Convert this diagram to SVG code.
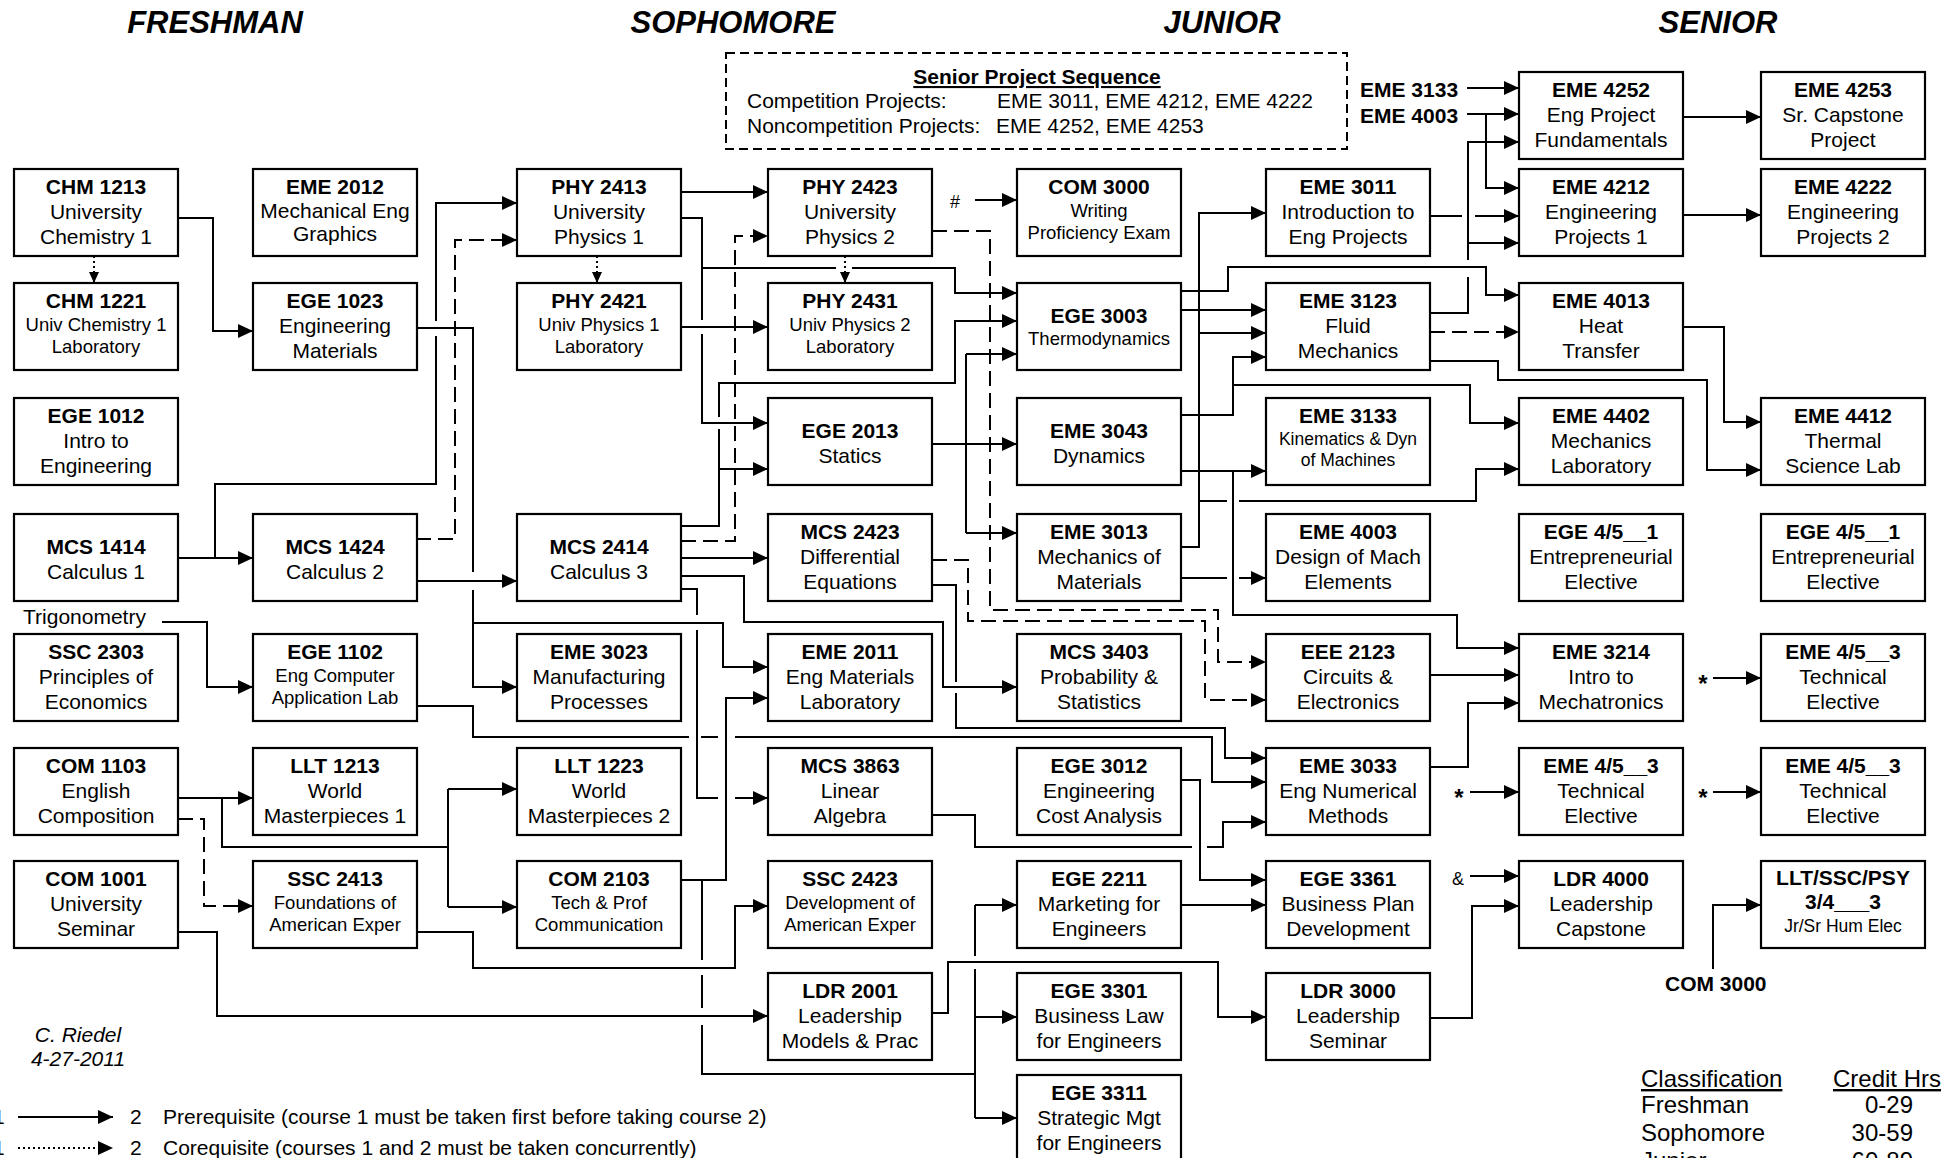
<svg xmlns="http://www.w3.org/2000/svg" width="1942" height="1158" viewBox="0 0 1942 1158">
<defs>
<style>
text{font-family:'Liberation Sans',Arial,Helvetica,sans-serif;fill:#000}
.box{fill:#fff;stroke:#000;stroke-width:2.2}
.n text{text-anchor:middle}
.b{font-weight:bold;font-size:21px}
.r{font-size:21px}
.s{font-size:18.5px}
.k{font-size:17.5px}
.h{font-weight:bold;font-style:italic;font-size:31px;text-anchor:middle}
.c path{fill:none;stroke:#000;stroke-width:2}
.c path.d{stroke-dasharray:15 7}
.c path.t{stroke-dasharray:2 3}
</style>
<marker id="a" markerUnits="userSpaceOnUse" markerWidth="15" markerHeight="14" refX="15" refY="7" orient="auto"><path d="M0,0 L15,7 L0,14 z" fill="#000"/></marker>
<marker id="as" markerUnits="userSpaceOnUse" markerWidth="11" markerHeight="10" refX="11" refY="5" orient="auto"><path d="M0,0 L11,5 L0,10 z" fill="#000"/></marker>
</defs>
<rect width="1942" height="1158" fill="#fff"/>

<g id="headers">
<text class="h" x="215" y="33">FRESHMAN</text>
<text class="h" x="733" y="33">SOPHOMORE</text>
<text class="h" x="1222" y="33">JUNIOR</text>
<text class="h" x="1718" y="33">SENIOR</text>
</g>

<g id="senior-project-sequence">
<rect x="726" y="53" width="621" height="96" fill="none" stroke="#000" stroke-width="2" stroke-dasharray="9 5"/>
<text x="1037" y="84" font-size="21" font-weight="bold" text-anchor="middle" text-decoration="underline">Senior Project Sequence</text>
<text x="747" y="108" font-size="21">Competition Projects:</text>
<text x="997" y="108" font-size="21">EME 3011, EME 4212, EME 4222</text>
<text x="747" y="133" font-size="21">Noncompetition Projects:</text>
<text x="996" y="133" font-size="21">EME 4252, EME 4253</text>
</g>

<g id="labels">
<text x="1360" y="97" class="b">EME 3133</text>
<text x="1360" y="123" class="b">EME 4003</text>
<text x="23" y="624" class="r">Trigonometry</text>
<text x="950" y="208" font-size="18">#</text>
<text x="1703" y="692" font-size="24" font-weight="bold" text-anchor="middle">*</text>
<text x="1459" y="806" font-size="24" font-weight="bold" text-anchor="middle">*</text>
<text x="1703" y="806" font-size="24" font-weight="bold" text-anchor="middle">*</text>
<text x="1452" y="885" font-size="18">&amp;</text>
<text x="1665" y="991" class="b">COM 3000</text>
<text x="78" y="1042" class="r" font-style="italic" text-anchor="middle">C. Riedel</text>
<text x="78" y="1066" class="r" font-style="italic" text-anchor="middle">4-27-2011</text>
</g>

<g id="legend">
<text x="-7" y="1124" class="r">1</text>
<text x="-7" y="1155" class="r">1</text>
<text x="130" y="1124" class="r">2</text>
<text x="163" y="1124" class="r">Prerequisite (course 1 must be taken first before taking course 2)</text>
<text x="130" y="1155" class="r">2</text>
<text x="163" y="1155" class="r">Corequisite (courses 1 and 2 must be taken concurrently)</text>
</g>

<g id="classification" font-size="24">
<text x="1641" y="1087" font-size="24" text-decoration="underline">Classification</text>
<text x="1833" y="1087" font-size="24" text-decoration="underline">Credit Hrs</text>
<text x="1641" y="1113" font-size="24">Freshman</text>
<text x="1913" y="1113" font-size="24" text-anchor="end">0-29</text>
<text x="1641" y="1141" font-size="24">Sophomore</text>
<text x="1913" y="1141" font-size="24" text-anchor="end">30-59</text>
<text x="1641" y="1169" font-size="24">Junior</text>
<text x="1913" y="1169" font-size="24" text-anchor="end">60-89</text>
</g>

<g id="connectors" class="c">
<path d="M178,218 H213 V331 H253" marker-end="url(#a)"/>
<path d="M178,558 H253" marker-end="url(#a)"/>
<path d="M215,558 V484 H436 V336 M436,321 V203 H517" marker-end="url(#a)"/>
<path d="M416,581 H517" marker-end="url(#a)"/>
<path d="M416,328 H473 V572 M473,590 V687 H517" marker-end="url(#a)"/>
<path d="M473,623 H723 V667 H768" marker-end="url(#a)"/>
<path d="M162,622 H207 V687 H253" marker-end="url(#a)"/>
<path d="M416,706 H473 V737 H689 M701,737 H718 M735,737 H1212 V782 H1266" marker-end="url(#a)"/>
<path d="M681,192 H768" marker-end="url(#a)"/>
<path d="M681,218 H702 V320 M702,334 V423 H768" marker-end="url(#a)"/>
<path d="M702,268 H836 M852,268 H955 V293 H1017" marker-end="url(#a)"/>
<path d="M681,526 H719 V469 H768" marker-end="url(#a)"/>
<path d="M719,469 V429 M719,417 V383 H955 V321 H1017" marker-end="url(#a)"/>
<path d="M681,327 H768" marker-end="url(#a)"/>
<path d="M681,558 H768" marker-end="url(#a)"/>
<path d="M681,576 H744 V622 H943 V687 H1017" marker-end="url(#a)"/>
<path d="M681,589 H697 V615 M697,630 V798 H718 M735,798 H768" marker-end="url(#a)"/>
<path d="M681,880 H726 V698 H768" marker-end="url(#a)"/>
<path d="M702,880 V960 M702,975 V1008 M702,1025 V1074 H975"/>
<path d="M975,905 V956 M975,969 V1118"/>
<path d="M975,905 H1017" marker-end="url(#a)"/>
<path d="M975,1017 H1017" marker-end="url(#a)"/>
<path d="M975,1118 H1017" marker-end="url(#a)"/>
<path d="M178,798 H253" marker-end="url(#a)"/>
<path d="M222,798 V847 H448 M448,789 V907"/>
<path d="M448,789 H517" marker-end="url(#a)"/>
<path d="M448,907 H517" marker-end="url(#a)"/>
<path d="M178,932 H217 V1016 H768" marker-end="url(#a)"/>
<path d="M416,932 H473 V968 H735 V906 H768" marker-end="url(#a)"/>
<path d="M932,1013 H948 V962 H1218 V1017 H1266" marker-end="url(#a)"/>
<path d="M1180,905 H1266" marker-end="url(#a)"/>
<path d="M1180,780 H1200 V880 H1266" marker-end="url(#a)"/>
<path d="M932,815 H975 V847 H1192 M1207,847 H1223 V822 H1266" marker-end="url(#a)"/>
<path d="M932,585 H956 V682 M956,693 V728 H1225 V758 H1266" marker-end="url(#a)"/>
<path d="M932,444 H1017" marker-end="url(#a)"/>
<path d="M966,354 V533"/>
<path d="M966,354 H1017" marker-end="url(#a)"/>
<path d="M966,533 H1017" marker-end="url(#a)"/>
<path d="M975,200 H1017" marker-end="url(#a)"/>
<path d="M1180,310 H1266" marker-end="url(#a)"/>
<path d="M1180,291 H1228 V267 H1486 V295 H1519" marker-end="url(#a)"/>
<path d="M1180,547 H1199 V213 H1266" marker-end="url(#a)"/>
<path d="M1199,333 H1266" marker-end="url(#a)"/>
<path d="M1199,501 H1227 M1239,501 H1476 V469 H1519" marker-end="url(#a)"/>
<path d="M1180,415 H1233 V357 H1266" marker-end="url(#a)"/>
<path d="M1233,385 H1470 V423 H1519" marker-end="url(#a)"/>
<path d="M1180,471 H1266" marker-end="url(#a)"/>
<path d="M1233,471 V615 H1457 V648 H1519" marker-end="url(#a)"/>
<path d="M1180,578 H1227 M1239,578 H1266" marker-end="url(#a)"/>
<path d="M1430,675 H1519" marker-end="url(#a)"/>
<path d="M1430,767 H1468 V703 H1519" marker-end="url(#a)"/>
<path d="M1430,313 H1468 V277 M1468,260 V142 H1519" marker-end="url(#a)"/>
<path d="M1468,243 H1519" marker-end="url(#a)"/>
<path d="M1430,216 H1462 M1475,216 H1519" marker-end="url(#a)"/>
<path d="M1467,88 H1519" marker-end="url(#a)"/>
<path d="M1467,114 H1519" marker-end="url(#a)"/>
<path d="M1486,114 V188 H1519" marker-end="url(#a)"/>
<path d="M1683,117 H1761" marker-end="url(#a)"/>
<path d="M1683,215 H1761" marker-end="url(#a)"/>
<path d="M1683,327 H1724 V422 H1761" marker-end="url(#a)"/>
<path d="M1430,361 H1498 V380 H1707 V470 H1761" marker-end="url(#a)"/>
<path d="M1713,678 H1761" marker-end="url(#a)"/>
<path d="M1470,792 H1519" marker-end="url(#a)"/>
<path d="M1713,792 H1761" marker-end="url(#a)"/>
<path d="M1470,876 H1519" marker-end="url(#a)"/>
<path d="M1430,1018 H1472 V906 H1519" marker-end="url(#a)"/>
<path d="M1713,969 V905 H1761" marker-end="url(#a)"/>
<path class="d" d="M416,539 H455 V240 H517" marker-end="url(#a)"/>
<path class="d" d="M681,541 H735 V236 H768" marker-end="url(#a)"/>
<path class="d" d="M932,231 H990 V610 H1218 V662 H1266" marker-end="url(#a)"/>
<path class="d" d="M932,560 H968 V621 H1205 V700 H1266" marker-end="url(#a)"/>
<path class="d" d="M1430,332 H1519" marker-end="url(#a)"/>
<path class="d" d="M178,819 H204 V906 H253" marker-end="url(#a)"/>
<path class="t" d="M94,256 V283" marker-end="url(#as)"/>
<path class="t" d="M597,256 V283" marker-end="url(#as)"/>
<path class="t" d="M845,256 V283" marker-end="url(#as)"/>
<path d="M18,1117 H113" marker-end="url(#a)"/>
<path class="t" d="M18,1148 H113" marker-end="url(#a)"/>
</g>

<g class="n">
<g id="chm1213"><rect class="box" x="14" y="169" width="164" height="87"/><text class="b" x="96" y="193.5">CHM 1213</text><text class="r" x="96" y="218.5">University</text><text class="r" x="96" y="243.5">Chemistry 1</text></g>
<g id="chm1221"><rect class="box" x="14" y="283" width="164" height="87"/><text class="b" x="96" y="307.5">CHM 1221</text><text class="s" x="96" y="330.5">Univ Chemistry 1</text><text class="s" x="96" y="352.5">Laboratory</text></g>
<g id="ege1012"><rect class="box" x="14" y="398" width="164" height="87"/><text class="b" x="96" y="422.5">EGE 1012</text><text class="r" x="96" y="447.5">Intro to</text><text class="r" x="96" y="472.5">Engineering</text></g>
<g id="mcs1414"><rect class="box" x="14" y="514" width="164" height="87"/><text class="b" x="96" y="554">MCS 1414</text><text class="r" x="96" y="579">Calculus 1</text></g>
<g id="ssc2303"><rect class="box" x="14" y="634" width="164" height="87"/><text class="b" x="96" y="658.5">SSC 2303</text><text class="r" x="96" y="683.5">Principles of</text><text class="r" x="96" y="708.5">Economics</text></g>
<g id="com1103"><rect class="box" x="14" y="748" width="164" height="87"/><text class="b" x="96" y="772.5">COM 1103</text><text class="r" x="96" y="797.5">English</text><text class="r" x="96" y="822.5">Composition</text></g>
<g id="com1001"><rect class="box" x="14" y="861" width="164" height="87"/><text class="b" x="96" y="885.5">COM 1001</text><text class="r" x="96" y="910.5">University</text><text class="r" x="96" y="935.5">Seminar</text></g>

<g id="eme2012"><rect class="box" x="253" y="169" width="164" height="87"/><text class="b" x="335" y="193.5">EME 2012</text><text class="r" x="335" y="217.5" font-size="20">Mechanical Eng</text><text class="r" x="335" y="240.5" font-size="20">Graphics</text></g>
<g id="ege1023"><rect class="box" x="253" y="283" width="164" height="87"/><text class="b" x="335" y="307.5">EGE 1023</text><text class="r" x="335" y="332.5">Engineering</text><text class="r" x="335" y="357.5">Materials</text></g>
<g id="mcs1424"><rect class="box" x="253" y="514" width="164" height="87"/><text class="b" x="335" y="554">MCS 1424</text><text class="r" x="335" y="579">Calculus 2</text></g>
<g id="ege1102"><rect class="box" x="253" y="634" width="164" height="87"/><text class="b" x="335" y="658.5">EGE 1102</text><text class="s" x="335" y="681.5">Eng Computer</text><text class="s" x="335" y="703.5">Application Lab</text></g>
<g id="llt1213"><rect class="box" x="253" y="748" width="164" height="87"/><text class="b" x="335" y="772.5">LLT 1213</text><text class="r" x="335" y="797.5">World</text><text class="r" x="335" y="822.5">Masterpieces 1</text></g>
<g id="ssc2413"><rect class="box" x="253" y="861" width="164" height="87"/><text class="b" x="335" y="885.5">SSC 2413</text><text class="s" x="335" y="908.5">Foundations of</text><text class="s" x="335" y="930.5">American Exper</text></g>

<g id="phy2413"><rect class="box" x="517" y="169" width="164" height="87"/><text class="b" x="599" y="193.5">PHY 2413</text><text class="r" x="599" y="218.5">University</text><text class="r" x="599" y="243.5">Physics 1</text></g>
<g id="phy2421"><rect class="box" x="517" y="283" width="164" height="87"/><text class="b" x="599" y="307.5">PHY 2421</text><text class="s" x="599" y="330.5">Univ Physics 1</text><text class="s" x="599" y="352.5">Laboratory</text></g>
<g id="mcs2414"><rect class="box" x="517" y="514" width="164" height="87"/><text class="b" x="599" y="554">MCS 2414</text><text class="r" x="599" y="579">Calculus 3</text></g>
<g id="eme3023"><rect class="box" x="517" y="634" width="164" height="87"/><text class="b" x="599" y="658.5">EME 3023</text><text class="r" x="599" y="683.5">Manufacturing</text><text class="r" x="599" y="708.5">Processes</text></g>
<g id="llt1223"><rect class="box" x="517" y="748" width="164" height="87"/><text class="b" x="599" y="772.5">LLT 1223</text><text class="r" x="599" y="797.5">World</text><text class="r" x="599" y="822.5">Masterpieces 2</text></g>
<g id="com2103"><rect class="box" x="517" y="861" width="164" height="87"/><text class="b" x="599" y="885.5">COM 2103</text><text class="s" x="599" y="908.5">Tech &amp; Prof</text><text class="s" x="599" y="930.5">Communication</text></g>

<g id="phy2423"><rect class="box" x="768" y="169" width="164" height="87"/><text class="b" x="850" y="193.5">PHY 2423</text><text class="r" x="850" y="218.5">University</text><text class="r" x="850" y="243.5">Physics 2</text></g>
<g id="phy2431"><rect class="box" x="768" y="283" width="164" height="87"/><text class="b" x="850" y="307.5">PHY 2431</text><text class="s" x="850" y="330.5">Univ Physics 2</text><text class="s" x="850" y="352.5">Laboratory</text></g>
<g id="ege2013"><rect class="box" x="768" y="398" width="164" height="87"/><text class="b" x="850" y="438">EGE 2013</text><text class="r" x="850" y="463">Statics</text></g>
<g id="mcs2423"><rect class="box" x="768" y="514" width="164" height="87"/><text class="b" x="850" y="538.5">MCS 2423</text><text class="r" x="850" y="563.5">Differential</text><text class="r" x="850" y="588.5">Equations</text></g>
<g id="eme2011"><rect class="box" x="768" y="634" width="164" height="87"/><text class="b" x="850" y="658.5">EME 2011</text><text class="r" x="850" y="683.5">Eng Materials</text><text class="r" x="850" y="708.5">Laboratory</text></g>
<g id="mcs3863"><rect class="box" x="768" y="748" width="164" height="87"/><text class="b" x="850" y="772.5">MCS 3863</text><text class="r" x="850" y="797.5">Linear</text><text class="r" x="850" y="822.5">Algebra</text></g>
<g id="ssc2423"><rect class="box" x="768" y="861" width="164" height="87"/><text class="b" x="850" y="885.5">SSC 2423</text><text class="s" x="850" y="908.5">Development of</text><text class="s" x="850" y="930.5">American Exper</text></g>
<g id="ldr2001"><rect class="box" x="768" y="973" width="164" height="87"/><text class="b" x="850" y="997.5">LDR 2001</text><text class="r" x="850" y="1022.5">Leadership</text><text class="r" x="850" y="1047.5">Models &amp; Prac</text></g>

<g id="com3000"><rect class="box" x="1017" y="169" width="164" height="87"/><text class="b" x="1099" y="193.5">COM 3000</text><text class="s" x="1099" y="216.5">Writing</text><text class="s" x="1099" y="238.5">Proficiency Exam</text></g>
<g id="ege3003"><rect class="box" x="1017" y="283" width="164" height="87"/><text class="b" x="1099" y="323">EGE 3003</text><text class="s" x="1099" y="345">Thermodynamics</text></g>
<g id="eme3043"><rect class="box" x="1017" y="398" width="164" height="87"/><text class="b" x="1099" y="438">EME 3043</text><text class="r" x="1099" y="463">Dynamics</text></g>
<g id="eme3013"><rect class="box" x="1017" y="514" width="164" height="87"/><text class="b" x="1099" y="538.5">EME 3013</text><text class="r" x="1099" y="563.5">Mechanics of</text><text class="r" x="1099" y="588.5">Materials</text></g>
<g id="mcs3403"><rect class="box" x="1017" y="634" width="164" height="87"/><text class="b" x="1099" y="658.5">MCS 3403</text><text class="r" x="1099" y="683.5">Probability &amp;</text><text class="r" x="1099" y="708.5">Statistics</text></g>
<g id="ege3012"><rect class="box" x="1017" y="748" width="164" height="87"/><text class="b" x="1099" y="772.5">EGE 3012</text><text class="r" x="1099" y="797.5">Engineering</text><text class="r" x="1099" y="822.5">Cost Analysis</text></g>
<g id="ege2211"><rect class="box" x="1017" y="861" width="164" height="87"/><text class="b" x="1099" y="885.5">EGE 2211</text><text class="r" x="1099" y="910.5">Marketing for</text><text class="r" x="1099" y="935.5">Engineers</text></g>
<g id="ege3301"><rect class="box" x="1017" y="973" width="164" height="87"/><text class="b" x="1099" y="997.5">EGE 3301</text><text class="r" x="1099" y="1022.5">Business Law</text><text class="r" x="1099" y="1047.5">for Engineers</text></g>
<g id="ege3311"><rect class="box" x="1017" y="1075" width="164" height="87"/><text class="b" x="1099" y="1099.5">EGE 3311</text><text class="r" x="1099" y="1124.5">Strategic Mgt</text><text class="r" x="1099" y="1149.5">for Engineers</text></g>

<g id="eme3011"><rect class="box" x="1266" y="169" width="164" height="87"/><text class="b" x="1348" y="193.5">EME 3011</text><text class="r" x="1348" y="218.5">Introduction to</text><text class="r" x="1348" y="243.5">Eng Projects</text></g>
<g id="eme3123"><rect class="box" x="1266" y="283" width="164" height="87"/><text class="b" x="1348" y="307.5">EME 3123</text><text class="r" x="1348" y="332.5">Fluid</text><text class="r" x="1348" y="357.5">Mechanics</text></g>
<g id="eme3133"><rect class="box" x="1266" y="398" width="164" height="87"/><text class="b" x="1348" y="422.5">EME 3133</text><text class="k" x="1348" y="444.5">Kinematics &amp; Dyn</text><text class="k" x="1348" y="466">of Machines</text></g>
<g id="eme4003"><rect class="box" x="1266" y="514" width="164" height="87"/><text class="b" x="1348" y="538.5">EME 4003</text><text class="r" x="1348" y="563.5">Design of Mach</text><text class="r" x="1348" y="588.5">Elements</text></g>
<g id="eee2123"><rect class="box" x="1266" y="634" width="164" height="87"/><text class="b" x="1348" y="658.5">EEE 2123</text><text class="r" x="1348" y="683.5">Circuits &amp;</text><text class="r" x="1348" y="708.5">Electronics</text></g>
<g id="eme3033"><rect class="box" x="1266" y="748" width="164" height="87"/><text class="b" x="1348" y="772.5">EME 3033</text><text class="r" x="1348" y="797.5">Eng Numerical</text><text class="r" x="1348" y="822.5">Methods</text></g>
<g id="ege3361"><rect class="box" x="1266" y="861" width="164" height="87"/><text class="b" x="1348" y="885.5">EGE 3361</text><text class="r" x="1348" y="910.5">Business Plan</text><text class="r" x="1348" y="935.5">Development</text></g>
<g id="ldr3000"><rect class="box" x="1266" y="973" width="164" height="87"/><text class="b" x="1348" y="997.5">LDR 3000</text><text class="r" x="1348" y="1022.5">Leadership</text><text class="r" x="1348" y="1047.5">Seminar</text></g>

<g id="eme4252"><rect class="box" x="1519" y="72" width="164" height="87"/><text class="b" x="1601" y="96.5">EME 4252</text><text class="r" x="1601" y="121.5">Eng Project</text><text class="r" x="1601" y="146.5">Fundamentals</text></g>
<g id="eme4212"><rect class="box" x="1519" y="169" width="164" height="87"/><text class="b" x="1601" y="193.5">EME 4212</text><text class="r" x="1601" y="218.5">Engineering</text><text class="r" x="1601" y="243.5">Projects 1</text></g>
<g id="eme4013"><rect class="box" x="1519" y="283" width="164" height="87"/><text class="b" x="1601" y="307.5">EME 4013</text><text class="r" x="1601" y="332.5">Heat</text><text class="r" x="1601" y="357.5">Transfer</text></g>
<g id="eme4402"><rect class="box" x="1519" y="398" width="164" height="87"/><text class="b" x="1601" y="422.5">EME 4402</text><text class="r" x="1601" y="447.5">Mechanics</text><text class="r" x="1601" y="472.5">Laboratory</text></g>
<g id="ege45x1a"><rect class="box" x="1519" y="514" width="164" height="87"/><text class="b" x="1601" y="538.5">EGE 4/5__1</text><text class="r" x="1601" y="563.5">Entrepreneurial</text><text class="r" x="1601" y="588.5">Elective</text></g>
<g id="eme3214"><rect class="box" x="1519" y="634" width="164" height="87"/><text class="b" x="1601" y="658.5">EME 3214</text><text class="r" x="1601" y="683.5">Intro to</text><text class="r" x="1601" y="708.5">Mechatronics</text></g>
<g id="eme45x3a"><rect class="box" x="1519" y="748" width="164" height="87"/><text class="b" x="1601" y="772.5">EME 4/5__3</text><text class="r" x="1601" y="797.5">Technical</text><text class="r" x="1601" y="822.5">Elective</text></g>
<g id="ldr4000"><rect class="box" x="1519" y="861" width="164" height="87"/><text class="b" x="1601" y="885.5">LDR 4000</text><text class="r" x="1601" y="910.5">Leadership</text><text class="r" x="1601" y="935.5">Capstone</text></g>

<g id="eme4253"><rect class="box" x="1761" y="72" width="164" height="87"/><text class="b" x="1843" y="96.5">EME 4253</text><text class="r" x="1843" y="121.5">Sr. Capstone</text><text class="r" x="1843" y="146.5">Project</text></g>
<g id="eme4222"><rect class="box" x="1761" y="169" width="164" height="87"/><text class="b" x="1843" y="193.5">EME 4222</text><text class="r" x="1843" y="218.5">Engineering</text><text class="r" x="1843" y="243.5">Projects 2</text></g>
<g id="eme4412"><rect class="box" x="1761" y="398" width="164" height="87"/><text class="b" x="1843" y="422.5">EME 4412</text><text class="r" x="1843" y="447.5">Thermal</text><text class="r" x="1843" y="472.5">Science Lab</text></g>
<g id="ege45x1b"><rect class="box" x="1761" y="514" width="164" height="87"/><text class="b" x="1843" y="538.5">EGE 4/5__1</text><text class="r" x="1843" y="563.5">Entrepreneurial</text><text class="r" x="1843" y="588.5">Elective</text></g>
<g id="eme45x3b"><rect class="box" x="1761" y="634" width="164" height="87"/><text class="b" x="1843" y="658.5">EME 4/5__3</text><text class="r" x="1843" y="683.5">Technical</text><text class="r" x="1843" y="708.5">Elective</text></g>
<g id="eme45x3c"><rect class="box" x="1761" y="748" width="164" height="87"/><text class="b" x="1843" y="772.5">EME 4/5__3</text><text class="r" x="1843" y="797.5">Technical</text><text class="r" x="1843" y="822.5">Elective</text></g>
<g id="lltsscpsy"><rect class="box" x="1761" y="861" width="164" height="87"/><text class="b" x="1843" y="885">LLT/SSC/PSY</text><text class="b" x="1843" y="909">3/4___3</text><text x="1843" y="932" font-size="17.5">Jr/Sr Hum Elec</text></g>
</g>
</svg>
